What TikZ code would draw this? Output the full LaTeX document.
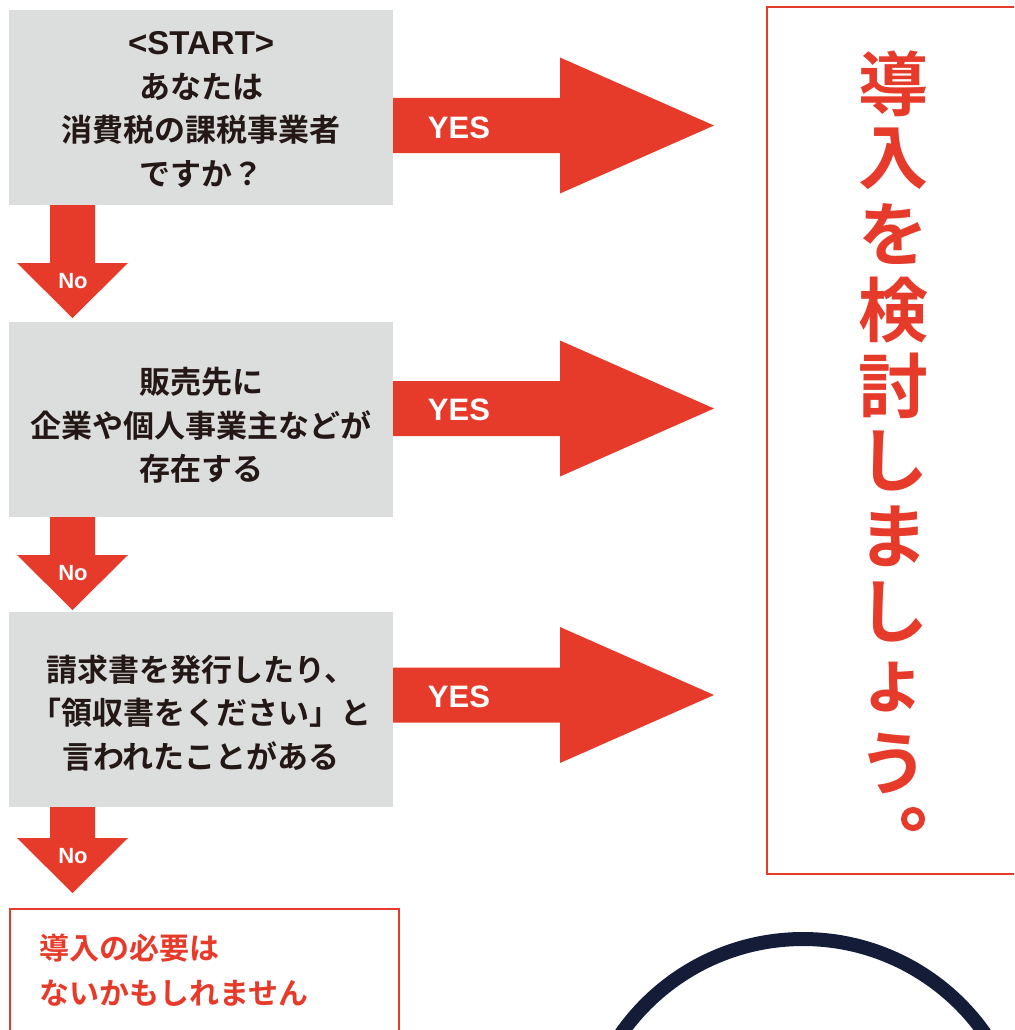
\documentclass[tikz,border=0pt]{standalone}
\usepackage{fontspec}
\newfontfamily\jp{Noto Sans CJK JP}[BoldFont={Noto Sans CJK JP Bold}]
\newfontfamily\lat{Liberation Sans}
\definecolor{myred}{RGB}{230,58,42}
\definecolor{mygray}{RGB}{220,221,221}
\definecolor{mydark}{RGB}{35,24,21}
\definecolor{mynavy}{RGB}{20,28,56}
\tikzset{
  qbox/.style={fill=mygray, draw=none, minimum width=384pt, minimum height=195pt, anchor=north west, inner sep=0pt},
  qtext/.style={font=\jp\bfseries\fontsize{31}{43.5}\selectfont, text=mydark, align=center},
  arr/.style={fill=myred, draw=none},
  nolabel/.style={font=\lat\bfseries\fontsize{22}{22}\selectfont, text=white},
  yeslabel/.style={font=\lat\bfseries\fontsize{31}{31}\selectfont, text=white},
  bigchar/.style={font=\jp\bfseries\fontsize{70}{70}\selectfont, text=myred},
}
\begin{document}
\begin{tikzpicture}[x=1pt,y=-1pt]
\useasboundingbox (0,0) rectangle (1014,1030);
\begin{scope}
\clip (0,0) rectangle (1014,1030);
% boxes
\node[qbox] (b1) at (9,10) {};
\node[qbox] (b2) at (9,322) {};
\node[qbox] (b3) at (9,612) {};
\node[qtext] (t1) at ([yshift=-2pt]b1.center) {{\lat\bfseries\fontsize{33}{43.5}\selectfont<START>}\\あなたは\\消費税の課税事業者\\ですか？};
\node[qtext] (t2) at ([yshift=-6pt]b2.center) {販売先に\\企業や個人事業主などが\\存在する};
\node[qtext] (t3) at ([yshift=-3pt]b3.center) {請求書を発行したり、\\「領収書をください」と\\言われたことがある};
% down arrows
\foreach \top/\tip in {205/318, 517/610, 807/893}{
  \pgfmathsetmacro{\hs}{\tip-55}
  \fill[arr] (50,\top) -- (95,\top) -- (95,\hs) -- (128,\hs) -- (72.5,\tip) -- (17,\hs) -- (50,\hs) -- cycle;
}
\node[nolabel] (na) at (73,281) {No};
\node[nolabel] (nb) at (73,573) {No};
\node[nolabel] (nc) at (73,856) {No};
% right arrows
\foreach \c in {125.5, 408.5, 695}{
  \fill[arr] (393,\c-27.5) -- (560,\c-27.5) -- (560,\c-68) -- (714,\c) -- (560,\c+68) -- (560,\c+27.5) -- (393,\c+27.5) -- cycle;
}
\node[yeslabel] (y1) at (459,128) {YES};
\node[yeslabel] (y2) at (459,410) {YES};
\node[yeslabel] (y3) at (459,697) {YES};
% right result box
\draw[myred, line width=1.5pt] (767,7) rectangle (1030,874);
\foreach \ch [count=\i] in {導,入,を,検,討,し,ま,し,ょ,う}{
  \node[bigchar] (c\i) at (893,{8+\i*75.5}) {\ch};
}
\node[bigchar] (c11) at (893,{8+11*75.5}) {\hphantom{。}};
\draw[myred, line width=6pt] (913,819) circle (9);
% bottom-left box
\draw[myred, line width=1.5pt] (10,909) rectangle (399,1040);
\node[font=\jp\bfseries\fontsize{30}{45}\selectfont, text=myred, align=left, anchor=north west] (nt) at (36,930) {導入の必要は\\ないかもしれません};
% arc
\draw[mynavy, line width=14pt] (803,1161) circle (222);
\end{scope}
\end{tikzpicture}
\end{document}
